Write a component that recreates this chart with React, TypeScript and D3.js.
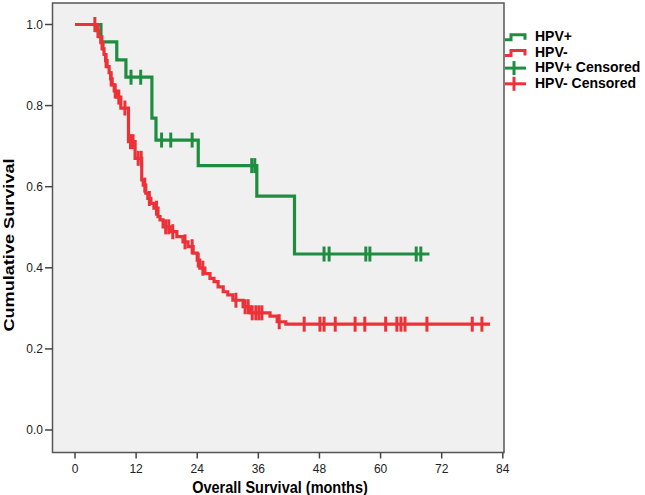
import * as d3 from "d3";

// HPV+ group: step times (months) and survival after each step
const hpvPosTimes = [0, 5.1, 8.2, 10.0, 15.1, 15.9, 24.2, 35.7, 43.1, 69.6];
const hpvPosSurv = [1.0, 0.957, 0.913, 0.87, 0.769, 0.715, 0.652, 0.577, 0.434, 0.434];
const hpvPosCensored = [11.0, 12.9, 17.0, 18.8, 23.0, 34.7, 35.3, 48.9, 49.9, 57.1, 57.9, 67.0, 67.9];

// HPV- group
const hpvNegTimes = [0, 4.1, 4.7, 5.1, 5.5, 5.7, 6.0, 6.3, 6.7, 7.0, 7.3, 7.7, 8.2, 9.0, 10.5, 11.8, 13.1, 13.4, 13.9, 14.3, 14.9, 15.5, 16.3, 16.7, 17.3, 18.7, 20.0, 21.2, 22.2, 23.2, 24.0, 24.5, 25.5, 26.5, 27.3, 28.1, 29.1, 30.0, 31.0, 33.0, 34.4, 38.3, 39.7, 41.4, 81.5];
const hpvNegSurv = [1.0, 0.985, 0.97, 0.955, 0.94, 0.926, 0.911, 0.896, 0.881, 0.866, 0.851, 0.836, 0.821, 0.794, 0.711, 0.67, 0.617, 0.604, 0.584, 0.571, 0.559, 0.547, 0.526, 0.518, 0.501, 0.489, 0.477, 0.464, 0.452, 0.436, 0.419, 0.399, 0.386, 0.374, 0.366, 0.353, 0.341, 0.333, 0.32, 0.304, 0.289, 0.281, 0.267, 0.261, 0.261];
const hpvNegCensored = [3.9, 4.5, 5.3, 6.1, 7.1, 7.9, 8.6, 9.8, 10.9, 11.4, 12.4, 13.0, 13.7, 14.6, 16.0, 17.8, 18.4, 19.2, 21.6, 23.0, 24.2, 25.1, 31.6, 33.4, 34.0, 34.8, 35.5, 36.1, 36.7, 40.1, 45.0, 48.1, 48.9, 51.1, 55.0, 56.9, 61.0, 63.2, 64.0, 64.8, 69.1, 78.0, 79.9];

const xTicks = [0, 12, 24, 36, 48, 60, 72, 84];
const yTicks = [0, 0.2, 0.4, 0.6, 0.8, 1.0];
const legendLabels = ["HPV+", "HPV-", "HPV+ Censored", "HPV- Censored"];

const GREEN = "#1f8d40";
const RED = "#ec3238";
const FONT = "'Liberation Sans', Arial, sans-serif";

const frame = { left: 52.5, top: 3, right: 504, bottom: 452.5 };
const x = d3.scaleLinear().domain([0, 84]).range([75, 502.8]);
const y = d3.scaleLinear().domain([0, 1]).range([430, 24.5]);

const stepLine = d3.line<[number, number]>().x(d => x(d[0])).y(d => y(d[1])).curve(d3.curveStepAfter);

function survAt(times: number[], surv: number[], t: number) {
  let s = surv[0];
  for (let i = 0; i < times.length; i++) if (times[i] <= t) s = surv[i];
  return s;
}

function Curve({ times, surv, censored, color }: { times: number[]; surv: number[]; censored: number[]; color: string }) {
  const pts = times.map((t, i) => [t, surv[i]] as [number, number]);
  return (
    <g>
      <path d={stepLine(pts)!} fill="none" stroke={color} strokeWidth={3.2} />
      {censored.map((t, i) => {
        const cx = x(t), cy = y(survAt(times, surv, t));
        return <line key={i} x1={cx} x2={cx} y1={cy - 7.5} y2={cy + 7.5} stroke={color} strokeWidth={3} />;
      })}
    </g>
  );
}

export default function App() {
  const legendY = [35.7, 51.4, 67.1, 82.8];
  const legendColors = [GREEN, RED, GREEN, RED];
  return (
    <div style={{ position: "absolute", left: 0, top: 0 }}>
      <svg width={645} height={495} style={{ display: "block", background: "#fff" }}>
        <rect x={frame.left} y={frame.top} width={frame.right - frame.left} height={frame.bottom - frame.top}
          fill="#f0f0f0" stroke="#555" strokeWidth={1.5} />
        {yTicks.map(t => (
          <g key={t}>
            <line x1={45} x2={frame.left} y1={y(t)} y2={y(t)} stroke="#444" strokeWidth={1.5} />
            <text x={43} y={y(t)} dy="0.35em" textAnchor="end" fontSize={12} fontFamily={FONT} fill="#222">{t.toFixed(1)}</text>
          </g>
        ))}
        {xTicks.map(t => (
          <g key={t}>
            <line x1={x(t)} x2={x(t)} y1={frame.bottom} y2={frame.bottom + 6} stroke="#444" strokeWidth={1.5} />
            <text x={x(t)} y={468.5} dy="0.35em" textAnchor="middle" fontSize={12} fontFamily={FONT} fill="#222">{t}</text>
          </g>
        ))}
        <text transform="translate(280,487.5) scale(1,1.1)" dy="0.35em" textAnchor="middle" fontSize={14.5} fontWeight="bold" fontFamily={FONT}>Overall Survival (months)</text>
        <text transform="translate(9,245) rotate(-90) scale(1.25,1)" dy="0.35em" textAnchor="middle" fontSize={14.5} fontWeight="bold" fontFamily={FONT}>Cumulative Survival</text>

        <Curve times={hpvPosTimes} surv={hpvPosSurv} censored={hpvPosCensored} color={GREEN} />
        <Curve times={hpvNegTimes} surv={hpvNegSurv} censored={hpvNegCensored} color={RED} />

        {legendLabels.map((label, i) => {
          const cy = legendY[i];
          const c = legendColors[i];
          return (
            <g key={label}>
              {i < 2 ? (
                <path d={`M505,${cy + 4}H511V${cy - 1}H525V${cy + 4}`} fill="none" stroke={c} strokeWidth={3} />
              ) : (
                <g>
                  <line x1={505} x2={526} y1={cy + 1} y2={cy + 1} stroke={c} strokeWidth={3} />
                  <line x1={514} x2={514} y1={cy - 6} y2={cy + 8} stroke={c} strokeWidth={3} />
                </g>
              )}
              <text transform={`translate(535,${cy}) scale(1,1.07)`} dy="0.35em" fontSize={14} fontWeight="bold" fontFamily={FONT}>{label}</text>
            </g>
          );
        })}
      </svg>
    </div>
  );
}
